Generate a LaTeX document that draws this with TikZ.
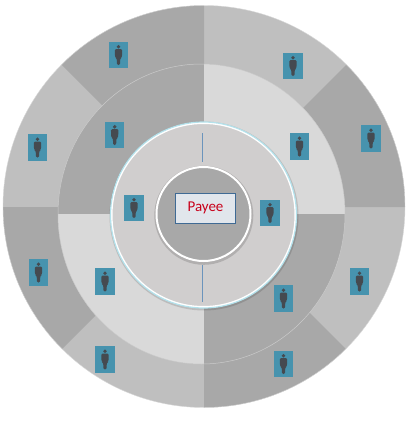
\documentclass[tikz,border=0pt]{standalone}
\usepackage{fontspec}
\setmainfont{Carlito}
\definecolor{ringdark}{HTML}{A8A8A8}
\definecolor{ringlight}{HTML}{BFBFBF}
\definecolor{midlight}{HTML}{D9D9D9}
\definecolor{innerring}{HTML}{D0CECE}
\definecolor{ringedge}{HTML}{B4E2EC}
\definecolor{teal}{HTML}{4793AE}
\definecolor{figure}{HTML}{454A50}
\definecolor{boxedge}{HTML}{3F6A94}
\definecolor{boxfill}{HTML}{E1E6EC}
\definecolor{spoke}{HTML}{6B94BC}
\definecolor{payeered}{HTML}{C8001A}
\tikzset{
  badge/.style={rectangle,fill=teal,minimum width=19.5pt,minimum height=26.5pt,inner sep=0pt,outer sep=0pt,
    path picture={
      \fill[figure] ([yshift=8.2pt]path picture bounding box.center) circle (1.9pt);
      \fill[figure,rounded corners=1.2pt]
        ([shift={(-3.8pt,5.8pt)}]path picture bounding box.center) --
        ([shift={(3.8pt,5.8pt)}]path picture bounding box.center) --
        ([shift={(3.4pt,-2.5pt)}]path picture bounding box.center) --
        ([shift={(1.9pt,-3pt)}]path picture bounding box.center) --
        ([shift={(1.4pt,-10pt)}]path picture bounding box.center) --
        ([shift={(-1.4pt,-10pt)}]path picture bounding box.center) --
        ([shift={(-1.9pt,-3pt)}]path picture bounding box.center) --
        ([shift={(-3.4pt,-2.5pt)}]path picture bounding box.center) -- cycle;
    }},
  namebox/.style={rectangle,draw=boxedge,line width=0.8pt,fill=boxfill,minimum width=60pt,minimum height=30pt,inner sep=0pt,
    text=payeered,font=\fontsize{15}{16}\selectfont},
  spokeline/.style={draw=spoke,line width=0.7pt}
}
\begin{document}
\begin{tikzpicture}[x=1pt,y=-1pt]
\useasboundingbox (0,0) rectangle (412,424);
\fill[white] (0,0) rectangle (412,424);
% outer ring
\begin{scope}
  \clip (204,206.5) circle (201);
  \fill[ringlight] (0,0) rectangle (412,424);
  \fill[ringdark] (204,207) -- (-6,-3) -- (204,-3) -- cycle;
  \fill[ringdark] (204,207) -- (-6,207) -- (-6,417) -- cycle;
  \fill[ringdark] (204,207) -- (204,424) -- (421,424) -- cycle;
  \fill[ringdark] (204,207) -- (412,207) -- (412,-1) -- cycle;
\end{scope}
\draw[draw=white!55!ringdark,line width=0.4pt] (204,206.5) circle (201);
% middle ring
\begin{scope}
  \clip (201.5,214) ellipse [x radius=143.5,y radius=150];
  \fill[ringdark] (0,0) rectangle (412,424);
  \fill[midlight] (204,0) rectangle (412,214);
  \fill[midlight] (0,214) rectangle (204,424);
\end{scope}
\draw[draw=white!40!ringdark,line width=0.5pt] (201.5,214) ellipse [x radius=143.5,y radius=150];
% inner ring
\fill[black,opacity=0.13] (204,216) circle (94.5);
\fill[innerring] (203.5,215) circle (92);
\draw[draw=white,line width=2pt] (203.5,215) circle (92);
\draw[draw=ringedge,line width=1.2pt] (203.5,215) circle (93);
% centre
\fill[black,opacity=0.15] (203.8,215.3) circle (49.5);
\fill[ringdark] (203.5,214) circle (47);
\draw[draw=white,line width=2pt] (203.5,214) circle (47);
% spokes
\coordinate (s1a) at (202.5,133);
\coordinate (s1b) at (202.5,162);
\coordinate (s2a) at (202.5,265);
\coordinate (s2b) at (202.5,302);
\draw[spokeline] (s1a) -- (s1b);
\draw[spokeline] (s2a) -- (s2b);
\node[namebox] (payee) at (205.5,208) {Payee};
\node[badge] (b1) at (118.5,55) {};
\node[badge] (b2) at (293,66) {};
\node[badge] (b3) at (371,138.5) {};
\node[badge] (b4) at (299.5,146.5) {};
\node[badge] (b5) at (114.7,135) {};
\node[badge] (b6) at (37.5,147.5) {};
\node[badge] (b7) at (134,208) {};
\node[badge] (b8) at (270,213) {};
\node[badge] (b9) at (38.5,272.5) {};
\node[badge] (b10) at (105,281.5) {};
\node[badge] (b11) at (283.5,298.5) {};
\node[badge] (b12) at (359.5,281.5) {};
\node[badge] (b13) at (105,359.5) {};
\node[badge] (b14) at (283.5,364) {};
\end{tikzpicture}
\end{document}
